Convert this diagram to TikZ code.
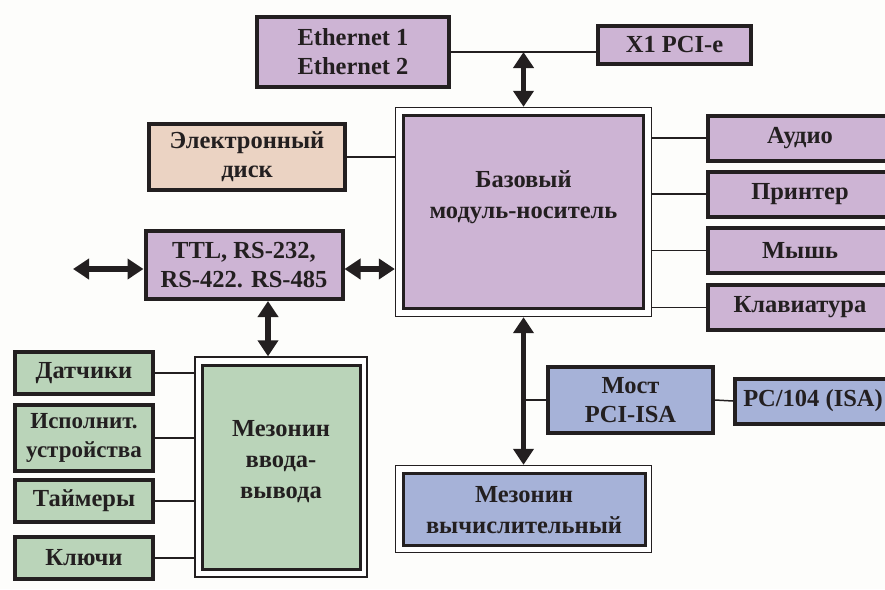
\documentclass[tikz,border=0pt]{standalone}
\usepackage{fontspec}
\setmainfont{Liberation Serif}
\usetikzlibrary{arrows.meta}
\definecolor{ink}{HTML}{231F20}
\definecolor{lilac}{HTML}{CDB4D4}
\definecolor{peach}{HTML}{EBD3C3}
\definecolor{sage}{HTML}{BAD4B9}
\definecolor{steel}{HTML}{A6B2D8}
\definecolor{paper}{HTML}{FDFDFB}
\tikzset{
  box/.style={draw=ink, line width=4pt, inner sep=0pt, align=center,
    text=ink, font=\bfseries\fontsize{24.5}{29}\selectfont},
  outerframe/.style={draw=ink, line width=1.4pt, fill=white, inner sep=0pt},
  innerframe/.style={draw=ink, line width=3pt, inner sep=0pt},
  label text/.style={align=center, text=ink, font=\bfseries\fontsize{24.5}{31}\selectfont},
  wire/.style={draw=ink, line width=1.5pt},
  bus/.style={draw=ink, line width=5.5pt,
    {Triangle[length=16pt,width=20pt]}-{Triangle[length=16pt,width=20pt]}},
}
\begin{document}
\begin{tikzpicture}[x=1pt,y=-1pt]
\useasboundingbox[fill=paper] (0,0) rectangle (885,589);

% top row
\node[box, fill=lilac, minimum width=192, minimum height=70] (eth) at (353,52) {Ethernet 1\\Ethernet 2};
\node[box, fill=lilac, minimum width=153, minimum height=38] (x1) at (674.5,45) {X1 PCI-e};

% base carrier module (double frame)
\node[outerframe, minimum width=256, minimum height=209] (baseO) at (523.5,212) {};
\node[innerframe, fill=lilac, minimum width=240, minimum height=193] (base) at (523.5,212) {};
\node[label text] (baseT) at (523.5,197) {Базовый\\модуль-носитель};

% electronic disk
\node[box, fill=peach, minimum width=196, minimum height=66] (disk) at (247,157) {Электронный\\диск};

% peripherals on the right
\node[box, fill=lilac, minimum width=184, minimum height=45] (audio) at (800,138) {Аудио};
\node[box, fill=lilac, minimum width=184, minimum height=45] (prn) at (800,194) {Принтер};
\node[box, fill=lilac, minimum width=184, minimum height=45] (mouse) at (800,250.5) {Мышь};
\node[box, fill=lilac, minimum width=184, minimum height=45] (kbd) at (800,307.5) {Клавиатура};

% serial interfaces
\node[box, fill=lilac, minimum width=197, minimum height=68] (ttl) at (244,265) {TTL, RS-232,\\RS-422. RS-485};

% I/O mezzanine (double frame)
\node[outerframe, minimum width=172, minimum height=220] (mioO) at (281,467) {};
\node[innerframe, fill=sage, minimum width=158, minimum height=204] (mio) at (281.5,467) {};
\node[label text] (mioT) at (281,462) {Мезонин\\ввода-\\вывода};

% I/O devices
\node[box, fill=sage, minimum width=138, minimum height=42] (sens) at (84,373) {Датчики};
\node[box, fill=sage, minimum width=138, minimum height=66, font=\bfseries\fontsize{23}{29}\selectfont] (act) at (84,438) {Исполнит.\\устройства};
\node[box, fill=sage, minimum width=138, minimum height=42] (tim) at (84,501) {Таймеры};
\node[box, fill=sage, minimum width=138, minimum height=42] (keys) at (84,558) {Ключи};

% PCI-ISA bridge and PC/104
\node[box, fill=steel, minimum width=165, minimum height=66] (bridge) at (630.5,400) {Мост\\PCI-ISA};
\node[box, fill=steel, minimum width=156, minimum height=45] (pc) at (813,401) {PC/104 (ISA)};

% computing mezzanine (double frame)
\node[outerframe, minimum width=256, minimum height=87] (mcO) at (523.5,509) {};
\node[innerframe, fill=steel, minimum width=242, minimum height=72] (mc) at (524,509.5) {};
\node[label text] (mcT) at (524,510) {Мезонин\\вычислительный};

% thin links
\draw[wire] (eth.east) -- (eth.east -| x1.west);
\draw[wire] (disk.east) -- (disk.east -| baseO.west);
\foreach \p in {audio,prn,mouse,kbd}
  \draw[wire] (\p.west -| baseO.east) -- (\p.west);
\foreach \p in {sens,act,tim,keys}
  \draw[wire] (\p.east) -- (\p.east -| mioO.west);
\draw[wire] (bridge.west -| baseO.south) -- (bridge.west);
\draw[wire] (bridge.east) -- (pc.west);

% buses
\coordinate (ethbus) at (eth.east -| baseO.north);
\coordinate (ext) at (73,269);
\coordinate (ttlS) at ([xshift=24pt]ttl.south);
\draw[bus] (ethbus) -- (baseO.north);
\draw[bus] (ext) -- (ext -| ttl.west);
\draw[bus] (ext -| ttl.east) -- (ext -| baseO.west);
\draw[bus] (ttlS) -- (ttlS |- mioO.north);
\draw[bus] (baseO.south) -- (mcO.north);
\end{tikzpicture}
\end{document}
